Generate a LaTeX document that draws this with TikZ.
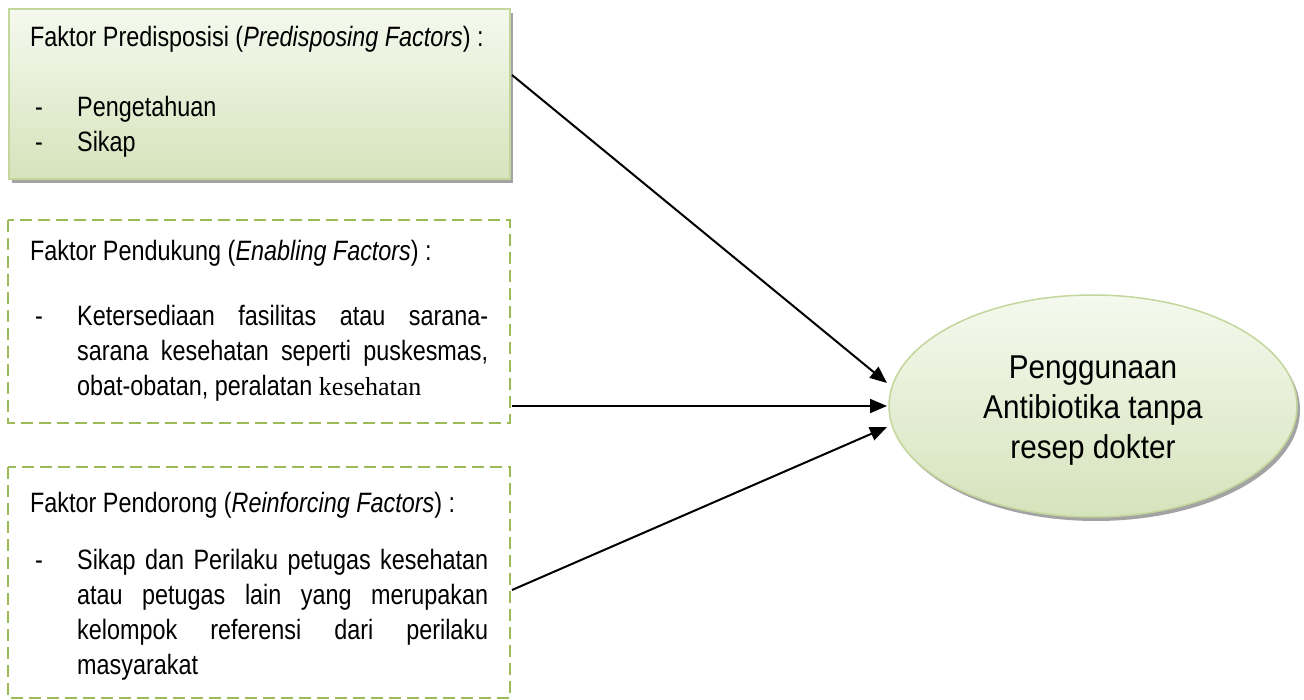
\documentclass[tikz,border=0pt]{standalone}
\usepackage{fontspec}
\setmainfont{Liberation Sans}
\newfontfamily\boxfont{Liberation Sans}[FakeStretch=0.835]
\newfontfamily\ellfont{Liberation Sans}[FakeStretch=0.9]
\newfontfamily\tnr{Liberation Serif}
\usetikzlibrary{arrows.meta,shadows,shapes.geometric}
\definecolor{bordergreen}{HTML}{C3D69B}
\definecolor{dashgreen}{HTML}{9BBB59}
\definecolor{filltop}{HTML}{F5F9EE}
\definecolor{fillbot}{HTML}{D6E3BC}
\tikzset{
  solidbox/.style={draw=bordergreen, line width=1.5pt, top color=filltop, bottom color=fillbot,
    drop shadow={shadow xshift=3pt, shadow yshift=-4pt, fill=black!45, opacity=.8}},
  dashbox/.style={draw=dashgreen, line width=2.2pt, dash pattern=on 12pt off 6pt},
  txt/.style={anchor=base west, inner sep=0pt, font=\boxfont\fontsize{28pt}{30pt}\selectfont},
  conn/.style={line width=2pt, -{Triangle[length=17pt,width=14pt]}}
}
\newcommand{\jline}[1]{\makebox[411pt][s]{#1}}
\begin{document}
\begin{tikzpicture}[x=1pt,y=-1pt]
\useasboundingbox (0,0) rectangle (1304,700);
% boxes
\path[solidbox] (9,9) rectangle (510,179);
\draw[dashbox] (8,220) rectangle (510,423);
\draw[dashbox] (8,467) rectangle (510,698);
% ellipse
\node[ellipse, solidbox, minimum width=408pt, minimum height=222pt] (ell) at (1093,406) {};
\node[align=center, inner sep=0pt, font=\ellfont\fontsize{33pt}{40pt}\selectfont] (ellt) at (1093,411)
  {Penggunaan\\Antibiotika tanpa\\resep dokter};
% box 1 text
\node[txt] (b1t) at (30,47) {Faktor Predisposisi (\textit{Predisposing Factors}) :};
\node[txt] (b1d1) at (35,117) {-};
\node[txt] (b1i1) at (77,117) {Pengetahuan};
\node[txt] (b1d2) at (35,152) {-};
\node[txt] (b1i2) at (77,152) {Sikap};
% box 2 text
\node[txt] (b2t) at (30,261) {Faktor Pendukung (\textit{Enabling Factors}) :};
\node[txt] (b2d1) at (35,326) {-};
\node[txt] (b2l1) at (77,326) {\jline{Ketersediaan fasilitas atau sarana-}};
\node[txt] (b2l2) at (77,361) {\jline{sarana kesehatan seperti puskesmas,}};
\node[txt] (b2l3) at (77,396) {obat-obatan, peralatan {\tnr\fontsize{26pt}{30pt}\selectfont kesehatan}};
% box 3 text
\node[txt] (b3t) at (30,512) {Faktor Pendorong (\textit{Reinforcing Factors}) :};
\node[txt] (b3d1) at (35,569) {-};
\node[txt] (b3l1) at (77,569) {\jline{Sikap dan Perilaku petugas kesehatan}};
\node[txt] (b3l2) at (77,604) {\jline{atau petugas lain yang merupakan}};
\node[txt] (b3l3) at (77,639) {\jline{kelompok referensi dari perilaku}};
\node[txt] (b3l4) at (77,674) {masyarakat};
% connectors
\coordinate (s1) at (512,75);
\coordinate (e1) at (887,383);
\coordinate (s2) at (512,406);
\coordinate (e2) at (887,406);
\coordinate (s3) at (512,590);
\coordinate (e3) at (887,427);
\draw[conn] (s1) -- (e1);
\draw[conn] (s2) -- (e2);
\draw[conn] (s3) -- (e3);
\end{tikzpicture}
\end{document}
